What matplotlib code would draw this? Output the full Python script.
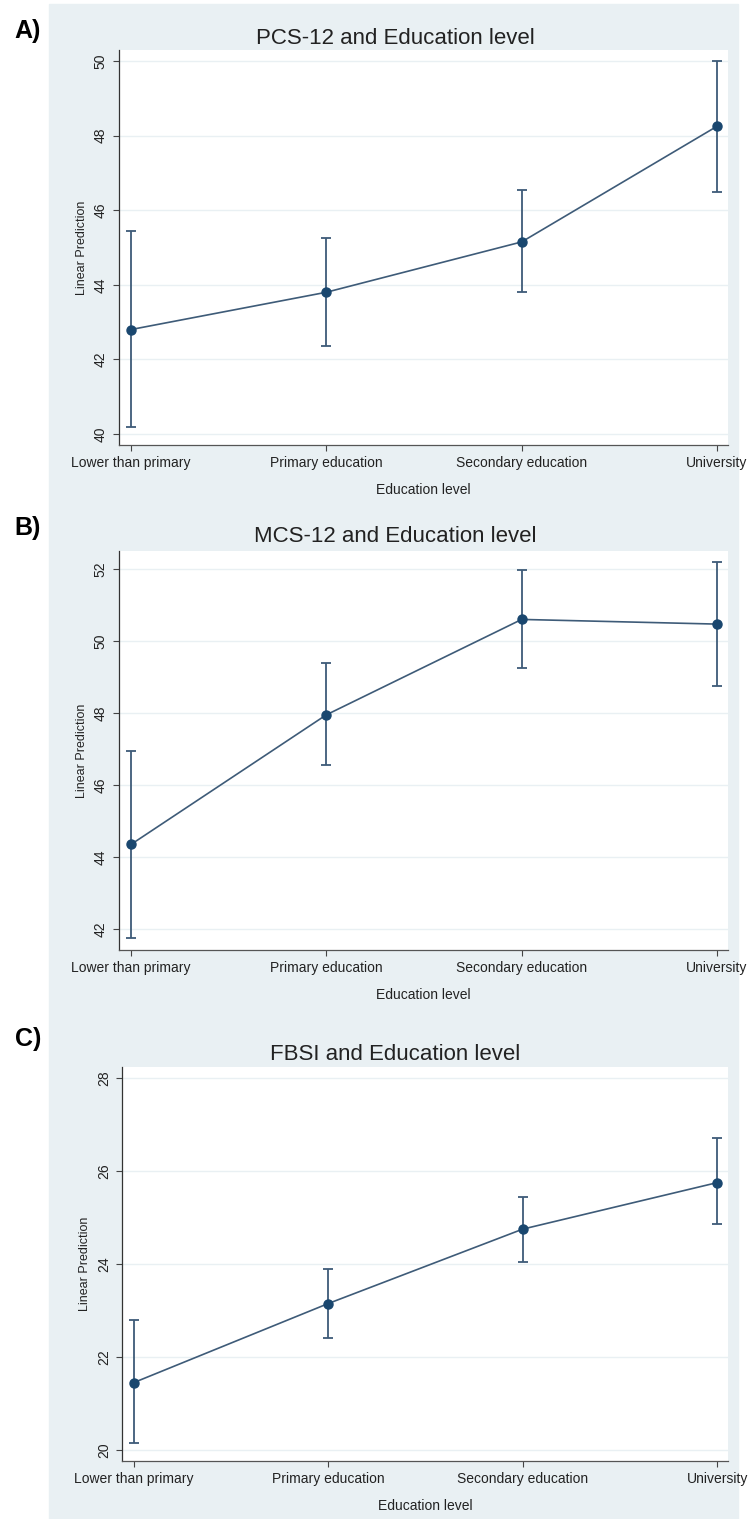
import matplotlib
matplotlib.use('Agg')
import matplotlib.pyplot as plt
from matplotlib.patches import Rectangle

plt.rcParams['font.family'] = ['Liberation Sans', 'DejaVu Sans']

W, H = 749, 1519

categories = ['Lower than primary', 'Primary education', 'Secondary education', 'University']

pcs_mean = [42.8, 43.8, 45.15, 48.25]
pcs_low = [40.2, 42.35, 43.8, 46.5]
pcs_high = [45.45, 45.25, 46.55, 50.0]
pcs_ticks = [40, 42, 44, 46, 48, 50]

mcs_mean = [44.35, 47.95, 50.6, 50.47]
mcs_low = [41.75, 46.55, 49.25, 48.75]
mcs_high = [46.95, 49.4, 51.97, 52.2]
mcs_ticks = [42, 44, 46, 48, 50, 52]

fbsi_mean = [21.45, 23.15, 24.75, 25.75]
fbsi_low = [20.15, 22.4, 24.05, 24.85]
fbsi_high = [22.8, 23.9, 25.45, 26.7]
fbsi_ticks = [20, 22, 24, 26, 28]

BG = '#E9F0F3'
NAVY = '#1A476F'
LINE = '#3E5B78'


def px_rect(left, top, right, bottom):
    return [left / W, 1 - bottom / H, (right - left) / W, (bottom - top) / H]


def draw_panel(fig, rect, mean, low, high, ticks, ylim, title, title_y, letter, letter_y):
    ax = fig.add_axes(px_rect(*rect))
    ax.set_facecolor('white')
    x = list(range(len(categories)))
    err = [[m - l for m, l in zip(mean, low)], [h - m for m, h in zip(mean, high)]]

    ax.plot(x, mean, color=LINE, lw=1.2, zorder=3)
    ax.errorbar(x, mean, yerr=err, fmt='none', ecolor=LINE, elinewidth=1.3,
                capsize=3.6, capthick=1.3, zorder=3)
    ax.plot(x, mean, 'o', color=NAVY, markersize=6.5, zorder=4)

    ax.set_xlim(-0.061, 3.056)
    ax.set_ylim(*ylim)
    ax.set_xticks(x)
    ax.set_xticklabels(categories, fontsize=10, color='#222222')
    ax.set_yticks(ticks)
    ax.set_yticklabels([str(t) for t in ticks], fontsize=10, color='#222222',
                       rotation=90, va='center')
    ax.yaxis.grid(True, color=BG, lw=1.0)
    ax.set_axisbelow(True)

    for s in ['top', 'right']:
        ax.spines[s].set_visible(False)
    ax.spines['left'].set_color('#333333')
    ax.spines['bottom'].set_color('#555555')
    ax.spines['left'].set_linewidth(0.9)
    ax.spines['bottom'].set_linewidth(0.9)
    ax.tick_params(axis='both', length=4, width=0.8, color='#444444', pad=4)

    ax.set_xlabel('Education level', fontsize=10, color='#222222', labelpad=9)
    ax.set_ylabel('Linear Prediction', fontsize=9, color='#222222', labelpad=4)

    fig.text(395 / W, 1 - title_y / H, title, fontsize=16, color='#222222',
             ha='center', va='center')
    fig.text(28 / W, 1 - letter_y / H, letter, fontsize=18, fontweight='bold',
             ha='center', va='center')
    return ax


fig = plt.figure(figsize=(W / 100, H / 100), dpi=100)
fig.patch.set_facecolor('white')
fig.patches.append(Rectangle((49 / W, 0), (738 - 49) / W, (H - 4) / H,
                             transform=fig.transFigure, color=BG, zorder=-10))

draw_panel(fig, (119, 50, 728, 445), pcs_mean, pcs_low, pcs_high, pcs_ticks,
           (39.705, 50.295), 'PCS-12 and Education level', 38, 'A)', 31)
draw_panel(fig, (119, 551, 728, 950), mcs_mean, mcs_low, mcs_high, mcs_ticks,
           (41.42, 52.5), 'MCS-12 and Education level', 537, 'B)', 528)
draw_panel(fig, (122, 1067, 728, 1461), fbsi_mean, fbsi_low, fbsi_high, fbsi_ticks,
           (19.763, 28.237), 'FBSI and Education level', 1055, 'C)', 1039)

fig.savefig('out.png', dpi=100, facecolor=fig.get_facecolor())
